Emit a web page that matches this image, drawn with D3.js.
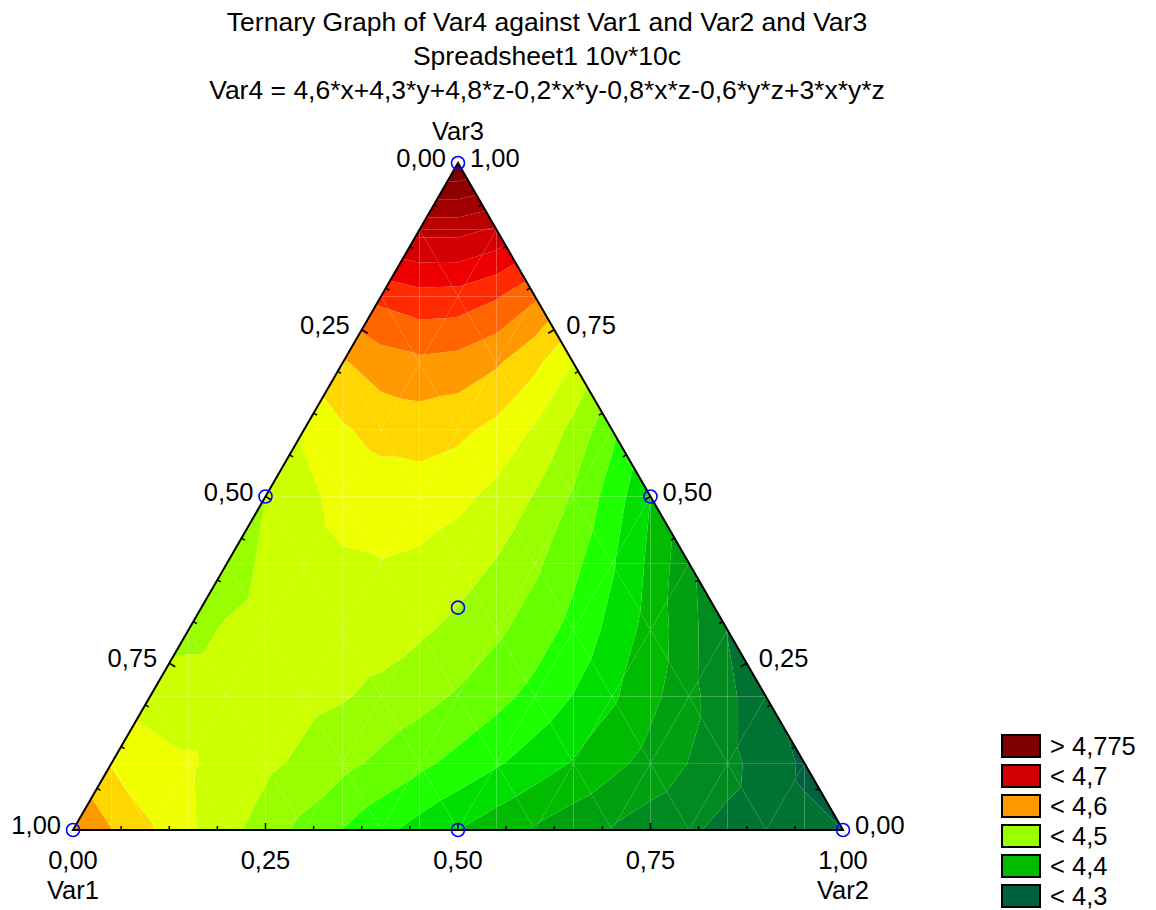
<!DOCTYPE html>
<html lang="en">
<head>
<meta charset="UTF-8">
<title>Ternary Graph</title>
<style>
  body { margin: 0; background: #fff; }
  svg text { font-family: "Liberation Sans", Arial, sans-serif; fill: #000; }
</style>
</head>
<body>
<svg id="chart" width="1156" height="910"></svg>
<script src="https://cdn.jsdelivr.net/npm/d3@7"></script>
<script>

// fitted model: x*4,6 + y*4,3 + z*4,8 + xy + xz + yz + xyz
var coefLinear = [4.6, 4.3, 4.8];
var coefPairs = [-0.2, -0.8, -0.6];   // x*y, x*z, y*z
var coefTriple = [3];                  // x*y*z

// contour levels (step 0,025) and band colours, from lowest to highest
var levels = [4.3, 4.325, 4.35, 4.375, 4.4, 4.425, 4.45, 4.475, 4.5, 4.525,
              4.55, 4.575, 4.6, 4.625, 4.65, 4.675, 4.7, 4.725, 4.75, 4.775];
var bandColors = ["#006040", "#007232", "#008a20", "#00a010", "#00bb00", "#00e000",
                  "#1eff00", "#66ff00", "#99ff00", "#ccff00", "#f0ff00", "#ffd700",
                  "#ff9900", "#ff6600", "#ff2a00", "#ee0000", "#d20000", "#b80000",
                  "#a20000", "#8e0000", "#800000"];

// legend entries
var legendLabels = ["> 4,775", "< 4,7", "< 4,6", "< 4,5", "< 4,4", "< 4,3"];
var legendBands = [20, 16, 12, 8, 4, 0];

// design points (Var1, Var2, Var3)
var designPoints = [[1, 0, 0], [0, 1, 0], [0, 0, 1], [0.5, 0.5, 0],
                    [0.5, 0, 0.5], [0, 0.5, 0.5], [1/3, 1/3, 1/3]];

var tickValues = [0, 0.25, 0.5, 0.75, 1];
var titleLines = ["Ternary Graph of Var4 against Var1 and Var2 and Var3",
                  "Spreadsheet1 10v*10c",
                  "Var4 = 4,6*x+4,3*y+4,8*z-0,2*x*y-0,8*x*z-0,6*y*z+3*x*y*z"];

var fmt = function (v) { return d3.format(".2f")(v).replace(".", ","); };

var svg = d3.select("#chart");

var xScale = d3.scaleLinear().domain([0, 1]).range([73, 843]);
var yScale = d3.scaleLinear().domain([0, 1]).range([830, 163]);

// (Var1, Var2, Var3) -> pixel
function project(p) {
    return [xScale(p[1] + p[2] / 2), yScale(p[2])];
}

function model(p) {
    var x = p[0], y = p[1], z = p[2];
    return coefLinear[0] * x + coefLinear[1] * y + coefLinear[2] * z +
        coefPairs[0] * x * y + coefPairs[1] * x * z + coefPairs[2] * y * z +
        coefTriple[0] * x * y * z;
}

// mesh: 10 divisions, every triangle split by its vertical median
var N = 10;
var cells = [];
function node(i, j) { var k = N - i - j; return [i / N, j / N, k / N]; }
function mid(a, b) { return [(a[0] + b[0]) / 2, (a[1] + b[1]) / 2, (a[2] + b[2]) / 2]; }

for (var k = 0; k < N; k++) {           // row of Var3 = k/N (bottom) to (k+1)/N
    for (var j = 0; j < N - k; j++) {
        var i = N - k - j;
        // up triangle: base (i,j,k)-(i-1,j+1,k), apex (i-1,j,k+1)
        var a = node(i, j), b = node(i - 1, j + 1), c = node(i - 1, j);
        var m = mid(a, b);
        cells.push([a, m, c], [m, b, c]);
        if (j < N - k - 1) {
            // down triangle: top (i-1,j,k+1)-(i-2,j+1,k+1), bottom (i-1,j+1,k)
            var d = node(i - 1, j), e = node(i - 2, j + 1), f = node(i - 1, j + 1);
            var m2 = mid(d, e);
            cells.push([d, m2, f], [m2, e, f]);
        }
    }
}

// clip polygon (points with value) to v >= t (keepAbove) or v <= t
function clip(poly, t, keepAbove) {
    var out = [];
    for (var n = 0; n < poly.length; n++) {
        var P = poly[n], Q = poly[(n + 1) % poly.length];
        var pin = keepAbove ? P.v >= t : P.v <= t;
        var qin = keepAbove ? Q.v >= t : Q.v <= t;
        if (pin) out.push(P);
        if (pin !== qin) {
            var r = (t - P.v) / (Q.v - P.v);
            out.push({ x: P.x + r * (Q.x - P.x), y: P.y + r * (Q.y - P.y), v: t });
        }
    }
    return out;
}

var pieces = [];
cells.forEach(function (tri) {
    var poly = tri.map(function (p) {
        var xy = project(p);
        return { x: xy[0], y: xy[1], v: model(p) };
    });
    for (var bnd = 0; bnd < bandColors.length; bnd++) {
        var part = poly;
        if (bnd > 0) part = clip(part, levels[bnd - 1], true);
        if (part.length < 3) continue;
        if (bnd < levels.length) part = clip(part, levels[bnd], false);
        if (part.length < 3) continue;
        pieces.push({ band: bnd, pts: part });
    }
});

svg.append("g").selectAll("path")
    .data(pieces)
    .enter().append("path")
    .attr("d", function (d) {
        return "M" + d.pts.map(function (p) { return p.x + "," + p.y; }).join("L") + "Z";
    })
    .attr("fill", function (d) { return bandColors[d.band]; })
    .attr("stroke", "none");

// triangle frame
var corners = [[1, 0, 0], [0, 1, 0], [0, 0, 1]].map(project);
svg.append("path")
    .attr("d", "M" + corners.join("L") + "Z")
    .attr("fill", "none")
    .attr("stroke", "#000")
    .attr("stroke-width", 2);

// ticks, 16 per edge, pointing inwards
var ticks = svg.append("g").attr("stroke", "#000").attr("stroke-width", 1.5);
d3.range(1, 16).forEach(function (n) {
    var t = n / 16, len = (n % 4 === 0) ? 7 : 4;
    [[1 - t, t, 0], [1 - t, 0, t], [0, 1 - t, t]].forEach(function (p) {
        var q = project(p);
        // perpendicular of the edge, towards inside
        var nx, ny;
        if (p[2] === 0) { nx = 0; ny = -1; }
        else if (p[1] === 0) { nx = Math.sqrt(3) / 2; ny = 0.5; }
        else { nx = -Math.sqrt(3) / 2; ny = 0.5; }
        ticks.append("line")
            .attr("x1", q[0]).attr("y1", q[1])
            .attr("x2", q[0] + nx * len).attr("y2", q[1] + ny * len);
    });
});

// tick labels
var labels = svg.append("g").style("font-size", "25.5px");
tickValues.forEach(function (v) {
    // Var1 along the left edge
    var pl = project([v, 0, 1 - v]);
    labels.append("text").attr("x", pl[0] - 12).attr("y", pl[1] + 4)
        .attr("text-anchor", "end").text(fmt(v));
    // Var3 along the right edge
    var pr = project([0, 1 - v, v]);
    labels.append("text").attr("x", pr[0] + 12).attr("y", pr[1] + 4)
        .attr("text-anchor", "start").text(fmt(v));
    // Var2 along the bottom
    var pb = project([1 - v, v, 0]);
    labels.append("text").attr("x", pb[0]).attr("y", 869)
        .attr("text-anchor", "middle").text(fmt(v));
});

var axisNames = svg.append("g").style("font-size", "25.5px").attr("text-anchor", "middle");
axisNames.append("text").attr("x", corners[0][0]).attr("y", 899).text("Var1");
axisNames.append("text").attr("x", corners[1][0]).attr("y", 899).text("Var2");
axisNames.append("text").attr("x", corners[2][0]).attr("y", 140).text("Var3");

// design points
svg.append("g").selectAll("circle")
    .data(designPoints)
    .enter().append("circle")
    .attr("cx", function (d) { return project(d)[0]; })
    .attr("cy", function (d) { return project(d)[1]; })
    .attr("r", 6.5)
    .attr("fill", "none")
    .attr("stroke", "#0000ff")
    .attr("stroke-width", 1.6);

// title
svg.append("g").attr("text-anchor", "middle").style("font-size", "26.5px")
    .selectAll("text")
    .data(titleLines)
    .enter().append("text")
    .attr("x", 547)
    .attr("y", function (d, i) { return 31 + i * 34; })
    .text(function (d) { return d; });

// legend
var legendItem = svg.append("g").selectAll("g")
    .data(legendLabels)
    .enter().append("g")
    .attr("transform", function (d, i) { return "translate(1002," + (735 + i * 30) + ")"; });

legendItem.append("rect")
    .attr("width", 38)
    .attr("height", 22)
    .attr("fill", function (d, i) { return bandColors[legendBands[i]]; })
    .attr("stroke", "#000")
    .attr("stroke-width", 2);

legendItem.append("text")
    .attr("x", 48)
    .attr("y", 20)
    .style("font-size", "25.5px")
    .text(function (d) { return d; });

</script>
</body>
</html>
